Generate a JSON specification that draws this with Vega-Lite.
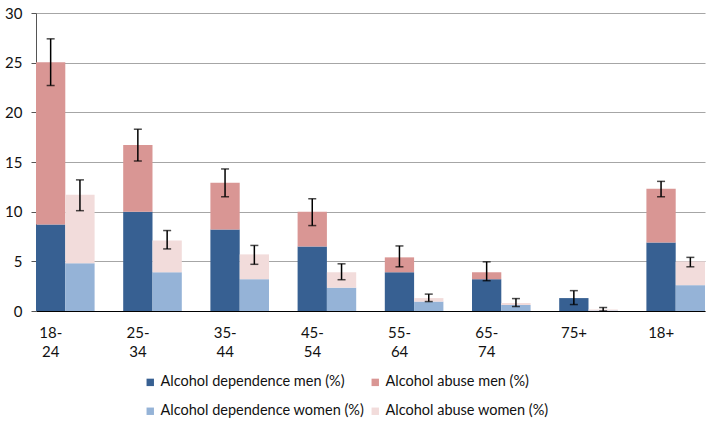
{
  "$schema": "https://vega.github.io/schema/vega-lite/v6.json",
  "width": 669,
  "height": 298,
  "autosize": "none",
  "padding": {"left": 36, "top": 13, "right": 8, "bottom": 115},
  "background": "white",
  "config": {
    "view": {"stroke": null},
    "font": "Lato",
    "axis": {"labelFont": "Lato", "labelColor": "#111111"},
    "legend": {"labelFont": "Lato"}
  },
  "datasets": {
    "bars": [
      {"age": "18-24", "sex": "men", "series": "Alcohol dependence men (%)", "value": 8.7},
      {"age": "18-24", "sex": "men", "series": "Alcohol abuse men (%)", "value": 16.35},
      {"age": "18-24", "sex": "women", "series": "Alcohol dependence women (%)", "value": 4.8},
      {"age": "18-24", "sex": "women", "series": "Alcohol abuse women (%)", "value": 6.9},
      {"age": "25-34", "sex": "men", "series": "Alcohol dependence men (%)", "value": 10.0},
      {"age": "25-34", "sex": "men", "series": "Alcohol abuse men (%)", "value": 6.7},
      {"age": "25-34", "sex": "women", "series": "Alcohol dependence women (%)", "value": 3.9},
      {"age": "25-34", "sex": "women", "series": "Alcohol abuse women (%)", "value": 3.2},
      {"age": "35-44", "sex": "men", "series": "Alcohol dependence men (%)", "value": 8.2},
      {"age": "35-44", "sex": "men", "series": "Alcohol abuse men (%)", "value": 4.7},
      {"age": "35-44", "sex": "women", "series": "Alcohol dependence women (%)", "value": 3.2},
      {"age": "35-44", "sex": "women", "series": "Alcohol abuse women (%)", "value": 2.5},
      {"age": "45-54", "sex": "men", "series": "Alcohol dependence men (%)", "value": 6.5},
      {"age": "45-54", "sex": "men", "series": "Alcohol abuse men (%)", "value": 3.5},
      {"age": "45-54", "sex": "women", "series": "Alcohol dependence women (%)", "value": 2.35},
      {"age": "45-54", "sex": "women", "series": "Alcohol abuse women (%)", "value": 1.55},
      {"age": "55-64", "sex": "men", "series": "Alcohol dependence men (%)", "value": 3.9},
      {"age": "55-64", "sex": "men", "series": "Alcohol abuse men (%)", "value": 1.5},
      {"age": "55-64", "sex": "women", "series": "Alcohol dependence women (%)", "value": 0.95},
      {"age": "55-64", "sex": "women", "series": "Alcohol abuse women (%)", "value": 0.35},
      {"age": "65-74", "sex": "men", "series": "Alcohol dependence men (%)", "value": 3.2},
      {"age": "65-74", "sex": "men", "series": "Alcohol abuse men (%)", "value": 0.7},
      {"age": "65-74", "sex": "women", "series": "Alcohol dependence women (%)", "value": 0.6},
      {"age": "65-74", "sex": "women", "series": "Alcohol abuse women (%)", "value": 0.2},
      {"age": "75+", "sex": "men", "series": "Alcohol dependence men (%)", "value": 1.3},
      {"age": "75+", "sex": "men", "series": "Alcohol abuse men (%)", "value": 0.0},
      {"age": "75+", "sex": "women", "series": "Alcohol dependence women (%)", "value": 0.05},
      {"age": "75+", "sex": "women", "series": "Alcohol abuse women (%)", "value": 0.1},
      {"age": "18+", "sex": "men", "series": "Alcohol dependence men (%)", "value": 6.9},
      {"age": "18+", "sex": "men", "series": "Alcohol abuse men (%)", "value": 5.4},
      {"age": "18+", "sex": "women", "series": "Alcohol dependence women (%)", "value": 2.6},
      {"age": "18+", "sex": "women", "series": "Alcohol abuse women (%)", "value": 2.4}
    ],
    "errors": [
      {"age": "18-24", "sex": "men", "lo": 22.7, "hi": 27.4},
      {"age": "18-24", "sex": "women", "lo": 10.1, "hi": 13.2},
      {"age": "25-34", "sex": "men", "lo": 15.1, "hi": 18.3},
      {"age": "25-34", "sex": "women", "lo": 6.25, "hi": 8.1},
      {"age": "35-44", "sex": "men", "lo": 11.5, "hi": 14.3},
      {"age": "35-44", "sex": "women", "lo": 4.7, "hi": 6.6},
      {"age": "45-54", "sex": "men", "lo": 8.6, "hi": 11.3},
      {"age": "45-54", "sex": "women", "lo": 3.15, "hi": 4.75},
      {"age": "55-64", "sex": "men", "lo": 4.45, "hi": 6.55},
      {"age": "55-64", "sex": "women", "lo": 0.95, "hi": 1.7},
      {"age": "65-74", "sex": "men", "lo": 3.05, "hi": 4.95},
      {"age": "65-74", "sex": "women", "lo": 0.45, "hi": 1.25},
      {"age": "75+", "sex": "men", "lo": 0.65, "hi": 2.05},
      {"age": "75+", "sex": "women", "lo": 0.0, "hi": 0.35},
      {"age": "18+", "sex": "men", "lo": 11.5, "hi": 13.05},
      {"age": "18+", "sex": "women", "lo": 4.45, "hi": 5.4}
    ]
  },
  "layer": [
    {
      "data": {"name": "bars"},
      "transform": [
        {"stack": "value", "groupby": ["age", "sex"], "sort": [{"field": "series", "order": "descending"}], "as": ["y0", "y1"]}
      ],
      "mark": {"type": "bar"},
      "encoding": {
        "x": {
          "field": "age", "type": "nominal", "sort": null,
          "scale": {"paddingInner": 0.328, "paddingOuter": 0},
          "axis": {
            "title": null, "labelAngle": 0, "ticks": false,
            "domainColor": "#000000", "domainWidth": 1.2,
            "labelFontSize": 15, "labelPadding": 14, "labelLineHeight": 19,
            "labelOffset": -14.5, "labelBaseline": "top",
            "labelExpr": "split(replace(datum.value, '-', '- '), ' ')"
          }
        },
        "xOffset": {"field": "sex", "type": "nominal", "scale": {"domain": ["men", "women"], "paddingInner": 0, "paddingOuter": 0}},
        "y": {
          "field": "y0", "type": "quantitative",
          "scale": {"domain": [0, 30], "nice": false},
          "axis": {
            "title": null, "values": [0, 5, 10, 15, 20, 25, 30],
            "grid": true, "gridColor": "#a6a6a6", "gridWidth": 1.2,
            "domainColor": "#555555", "tickColor": "#555555", "tickSize": 5,
            "labelFontSize": 15, "labelPadding": 9
          }
        },
        "y2": {"field": "y1"},
        "color": {
          "field": "series", "type": "nominal",
          "scale": {
            "domain": ["Alcohol dependence men (%)", "Alcohol abuse men (%)", "Alcohol dependence women (%)", "Alcohol abuse women (%)"],
            "range": ["#376092", "#d99694", "#95b3d7", "#f2dcdb"]
          },
          "legend": {
            "title": null, "orient": "none", "legendX": 107, "legendY": 362,
            "columns": 2, "direction": "horizontal",
            "symbolType": "square", "symbolSize": 55, "symbolStrokeWidth": 0,
            "labelFontSize": 14.5, "labelColor": "#111111", "labelOffset": 3,
            "rowPadding": 14, "columnPadding": 3, "labelLimit": 300
          }
        }
      }
    },
    {
      "data": {"name": "errors"},
      "mark": {"type": "rule", "color": "#000000", "strokeWidth": 1.5},
      "encoding": {
        "x": {"field": "age", "type": "nominal", "sort": null},
        "xOffset": {"field": "sex", "type": "nominal"},
        "y": {"field": "lo", "type": "quantitative"},
        "y2": {"field": "hi"}
      }
    },
    {
      "data": {"name": "errors"},
      "mark": {"type": "tick", "color": "#000000", "orient": "horizontal", "size": 8, "thickness": 1.5},
      "encoding": {
        "x": {"field": "age", "type": "nominal", "sort": null},
        "xOffset": {"field": "sex", "type": "nominal"},
        "y": {"field": "lo", "type": "quantitative"}
      }
    },
    {
      "data": {"name": "errors"},
      "mark": {"type": "tick", "color": "#000000", "orient": "horizontal", "size": 8, "thickness": 1.5},
      "encoding": {
        "x": {"field": "age", "type": "nominal", "sort": null},
        "xOffset": {"field": "sex", "type": "nominal"},
        "y": {"field": "hi", "type": "quantitative"}
      }
    }
  ]
}
